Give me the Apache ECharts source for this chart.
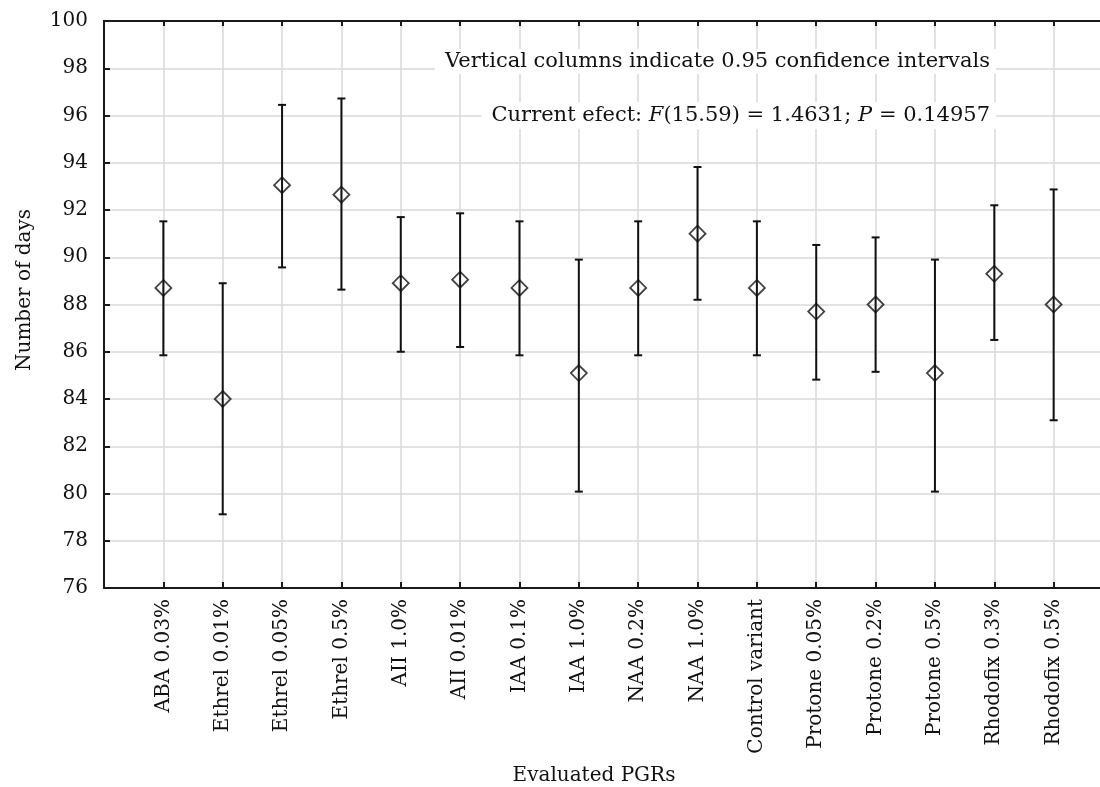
<!DOCTYPE html>
<html>
<head>
<meta charset="utf-8">
<script src="https://cdn.jsdelivr.net/npm/echarts@6/dist/echarts.min.js"></script>
<style>
html,body{margin:0;padding:0;background:#fff;overflow:hidden;width:1100px;height:787px;}
#chart{width:1113px;height:787px;}
</style>
</head>
<body>
<div id="chart"></div>
<script>
const categories = ['ABA 0.03%','Ethrel 0.01%','Ethrel 0.05%','Ethrel 0.5%','AII 1.0%','AII 0.01%','IAA 0.1%','IAA 1.0%','NAA 0.2%','NAA 1.0%','Control variant','Protone 0.05%','Protone 0.2%','Protone 0.5%','Rhodofix 0.3%','Rhodofix 0.5%'];
const means = [88.7, 84.0, 93.05, 92.65, 88.9, 89.05, 88.7, 85.1, 88.7, 91.0, 88.7, 87.7, 88.0, 85.1, 89.3, 88.0];
const upper = [91.52, 88.9, 96.45, 96.72, 91.7, 91.86, 91.52, 89.9, 91.52, 93.82, 91.52, 90.52, 90.84, 89.9, 92.2, 92.87];
const lower = [85.85, 79.12, 89.57, 88.63, 86.0, 86.2, 85.85, 80.08, 85.85, 88.2, 85.85, 84.82, 85.15, 80.08, 86.5, 83.1];
const yTicks = {min: 76, max: 100, step: 2};
const note1 = 'Vertical columns indicate 0.95 confidence intervals';
const note2 = '{n|Current efect: }{i|F}{n|(15.59) = 1.4631; }{i|P}{n| = 0.14957}';
const xTitle = 'Evaluated PGRs';
const yTitle = 'Number of days';

const FONT = 'DejaVu Serif';
const axisData = [''].concat(categories, [' ']);
const dark = '#1a1a1a';
const gridGray = '#d9d9d9';

const chart = echarts.init(document.getElementById('chart'));
chart.setOption({
  backgroundColor: '#fff',
  animation: false,
  grid: {left: 104, right: 0, top: 21, bottom: 199, show: false, containLabel: false, outerBoundsMode: 'none'},
  xAxis: [{
    type: 'category', data: axisData, boundaryGap: false, position: 'bottom',
    axisLine: {show: true, lineStyle: {color: dark, width: 2}},
    axisTick: {show: true, inside: true, length: 6, interval: 0, lineStyle: {color: dark, width: 2}},
    axisLabel: {rotate: 90, interval: 0, margin: 11, fontFamily: FONT, fontSize: 20, color: '#111'},
    splitLine: {show: true, interval: 0, lineStyle: {color: gridGray, width: 1.5}}
  }, {
    type: 'category', data: axisData, boundaryGap: false, position: 'top',
    axisLine: {show: true, lineStyle: {color: dark, width: 2}},
    axisTick: {show: true, inside: true, length: 5, interval: 0, lineStyle: {color: dark, width: 2}},
    axisLabel: {show: false},
    splitLine: {show: false}
  }],
  yAxis: {
    type: 'value', min: yTicks.min, max: yTicks.max, interval: yTicks.step,
    axisLine: {show: true, lineStyle: {color: dark, width: 2}},
    axisTick: {show: true, inside: true, length: 6, lineStyle: {color: dark, width: 2}},
    axisLabel: {margin: 16, fontFamily: FONT, fontSize: 20, color: '#111'},
    splitLine: {show: true, lineStyle: {color: gridGray, width: 1.5}}
  },
  series: [{
    type: 'custom',
    xAxisIndex: 0,
    data: categories.map((c, i) => [c, lower[i], upper[i]]),
    encode: {x: 0, y: [1, 2]},
    z: 3,
    renderItem: function (params, api) {
      const x = api.value(0);
      const lo = api.coord([x, api.value(1)]);
      const hi = api.coord([x, api.value(2)]);
      const hw = 4;
      const st = {stroke: '#111', lineWidth: 2};
      return {type: 'group', children: [
        {type: 'line', shape: {x1: lo[0], y1: lo[1], x2: hi[0], y2: hi[1]}, style: st},
        {type: 'line', shape: {x1: lo[0] - hw, y1: lo[1], x2: lo[0] + hw, y2: lo[1]}, style: st},
        {type: 'line', shape: {x1: hi[0] - hw, y1: hi[1], x2: hi[0] + hw, y2: hi[1]}, style: st}
      ]};
    }
  }, {
    type: 'scatter',
    xAxisIndex: 0,
    data: categories.map((c, i) => [c, means[i]]),
    symbol: 'diamond',
    symbolSize: [16, 16],
    z: 4,
    itemStyle: {color: 'rgba(255,255,255,0)', borderColor: '#111', borderWidth: 1.8}
  }],
  graphic: [{
    type: 'text', x: 996, y: 49, z: 10,
    style: {text: note1, font: '21px "DejaVu Serif"', fill: '#111', align: 'right', verticalAlign: 'top',
      backgroundColor: '#fff', padding: [2, 6, 2, 10]}
  }, {
    type: 'text', x: 996, y: 102, z: 10,
    style: {
      text: note2, fill: '#111', align: 'right', verticalAlign: 'top',
      backgroundColor: '#fff', padding: [3, 6, 3, 10],
      rich: {
        n: {fontFamily: FONT, fontSize: 21, fill: '#111'},
        i: {fontFamily: FONT, fontSize: 21, fontStyle: 'italic', fill: '#111'}
      }
    }
  }, {
    type: 'text', x: 594, y: 776, z: 10,
    style: {text: xTitle, font: '20px "DejaVu Serif"', fill: '#111', align: 'center', verticalAlign: 'middle'}
  }, {
    type: 'text', x: 25, y: 290, rotation: Math.PI / 2, z: 10,
    style: {text: yTitle, font: '20px "DejaVu Serif"', fill: '#111', align: 'center', verticalAlign: 'middle'}
  }]
});
</script>
</body>
</html>
